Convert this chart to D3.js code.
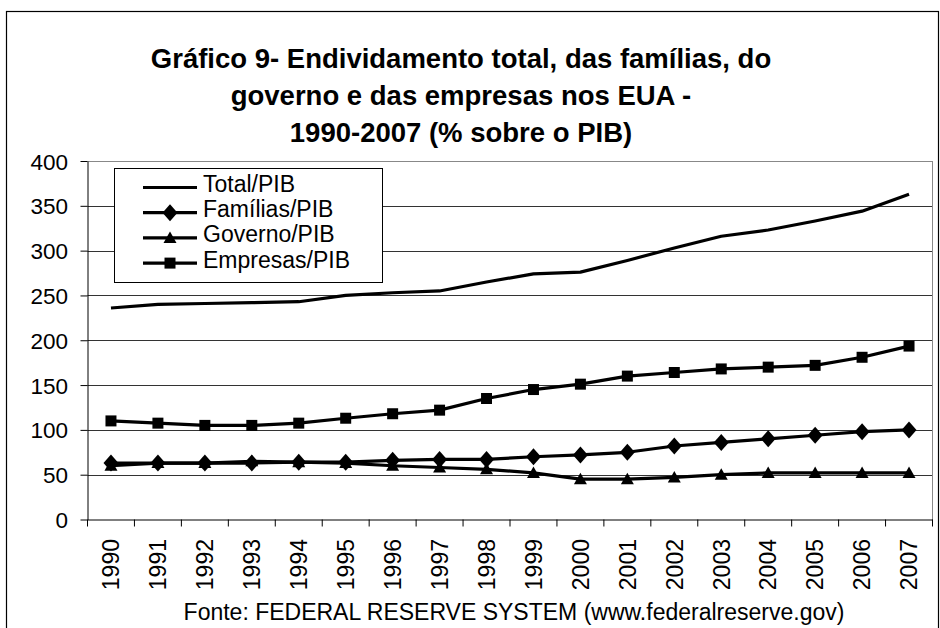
<!DOCTYPE html>
<html>
<head>
<meta charset="utf-8">
<script src="https://cdn.jsdelivr.net/npm/d3@7/dist/d3.min.js"></script>
<style>
  html, body { margin: 0; padding: 0; background: #fff; }
  svg { display: block; }
  text { font-family: "Liberation Sans", Arial, Helvetica, sans-serif; fill: #000; }
</style>
</head>
<body>
<svg id="chart" width="940" height="628"></svg>
<script>
// ---- data ----
const years = ["1990","1991","1992","1993","1994","1995","1996","1997","1998","1999","2000","2001","2002","2003","2004","2005","2006","2007"];
const totalPIB    = [236, 240, 241, 242, 243, 250, 253, 255, 265, 274, 276, 289, 303, 316, 323, 333, 344, 363];
const familiasPIB = [63, 63, 63, 63, 64, 64, 66, 67, 67, 70, 72, 75, 82, 86, 90, 94, 98, 100];
const governoPIB  = [60, 63, 63, 65, 64, 63, 60, 58, 56, 52, 45, 45, 47, 50, 52, 52, 52, 52];
const empresasPIB = [110, 107.5, 105, 105, 107.5, 113, 118, 122, 135, 145, 151, 160, 164, 168, 170, 172, 181, 193.5];
const yTicks = [0, 50, 100, 150, 200, 250, 300, 350, 400];
const seriesNames = ["Total/PIB", "Famílias/PIB", "Governo/PIB", "Empresas/PIB"];
const seriesMarkers = ["none", "diamond", "triangle", "square"];
const titleLines = ["Gráfico 9- Endividamento total, das famílias, do", "governo e das empresas nos EUA -", "1990-2007 (% sobre o PIB)"];
const sourceText = "Fonte: FEDERAL RESERVE SYSTEM (www.federalreserve.gov)";

const series = [totalPIB, familiasPIB, governoPIB, empresasPIB].map((vals, i) => ({
  name: seriesNames[i], marker: seriesMarkers[i], values: vals
}));

// ---- layout ----
const svg = d3.select("#chart");
const plot = { left: 87.5, right: 932.5, top: 161, bottom: 519.5 };

const x = d3.scaleBand().domain(years).range([plot.left, plot.right]);
const y = d3.scaleLinear().domain([0, 400]).range([plot.bottom, plot.top]);
const cx = d => x(d) + x.bandwidth() / 2;

// outer frame
svg.append("rect").attr("x", 6.5).attr("y", 11.5).attr("width", 932).attr("height", 640)
  .attr("fill", "#fff").attr("stroke", "#000").attr("stroke-width", 1.2);

// title
svg.append("g").selectAll("text").data(titleLines).join("text")
  .attr("x", 461).attr("y", (d, i) => 68 + i * 37)
  .attr("text-anchor", "middle").attr("font-size", 27.5).attr("font-weight", "bold")
  .text(d => d);

// gridlines
svg.append("g").selectAll("line").data(yTicks.filter(t => t > 0)).join("line")
  .attr("x1", plot.left).attr("x2", plot.right)
  .attr("y1", d => Math.round(y(d)) + 0.5).attr("y2", d => Math.round(y(d)) + 0.5)
  .attr("stroke", d => d === 400 ? "#888" : "#333").attr("stroke-width", 1);

// right border of plot area
svg.append("line").attr("x1", plot.right).attr("x2", plot.right)
  .attr("y1", plot.top).attr("y2", plot.bottom).attr("stroke", "#888");

// y axis
const yAxis = svg.append("g").attr("transform", `translate(${plot.left},0)`)
  .call(d3.axisLeft(y).tickValues(yTicks).tickSize(7).tickSizeOuter(0).tickPadding(19));
yAxis.select(".domain").attr("stroke", "#000");
yAxis.selectAll(".tick line").attr("stroke", "#000");
yAxis.selectAll(".tick text").attr("font-size", 22.5).attr("font-family", "Liberation Sans, Arial, sans-serif")
  .attr("dy", "0.36em").attr("x", -19.5);

// x axis line
const xAxis = svg.append("g").attr("transform", `translate(0,${plot.bottom})`)
  .call(d3.axisBottom(x).tickSize(0).tickPadding(0));
xAxis.select(".domain").attr("stroke", "#000");
xAxis.selectAll(".tick text").remove();
// x tick marks at category boundaries
const bounds = years.map(d => x(d)).concat([plot.right]);
svg.append("g").selectAll("line").data(bounds).join("line")
  .attr("x1", d => d).attr("x2", d => d)
  .attr("y1", plot.bottom).attr("y2", plot.bottom + 7)
  .attr("stroke", "#000");
// x labels (rotated)
svg.append("g").selectAll("text").data(years).join("text")
  .attr("transform", d => `translate(${cx(d)},539) rotate(-90)`)
  .attr("text-anchor", "end").attr("dy", "0.36em").attr("font-size", 23)
  .text(d => d);

// lines
const line = d3.line().x((v, i) => cx(years[i])).y(v => y(v));
svg.append("g").selectAll("path").data(series).join("path")
  .attr("d", s => line(s.values))
  .attr("fill", "none").attr("stroke", "#000").attr("stroke-width", 3.2)
  .attr("stroke-linejoin", "round");

// markers
function markerPath(type) {
  if (type === "diamond") return "M0,-8.5L7.5,0L0,8.5L-7.5,0Z";
  if (type === "triangle") return "M0,-6.5L6.5,5L-6.5,5Z";
  if (type === "square") return "M-5.5,-5.5H5.5V5.5H-5.5Z";
  return null;
}
series.filter(s => s.marker !== "none").forEach(s => {
  svg.append("g").selectAll("path").data(s.values).join("path")
    .attr("transform", (v, i) => `translate(${cx(years[i])},${y(v)})`)
    .attr("d", markerPath(s.marker)).attr("fill", "#000");
});

// legend
const lg = svg.append("g");
lg.append("rect").attr("x", 114.5).attr("y", 168.5).attr("width", 268).attr("height", 114)
  .attr("fill", "#fff").attr("stroke", "#000").attr("stroke-width", 1);
const rows = lg.selectAll("g").data(series).join("g")
  .attr("transform", (d, i) => `translate(0,${187.5 + i * 25.2})`);
rows.append("line").attr("x1", 143).attr("x2", 197).attr("y1", 0).attr("y2", 0)
  .attr("stroke", "#000").attr("stroke-width", 3.2);
rows.filter(d => d.marker !== "none").append("path")
  .attr("transform", "translate(170,0)")
  .attr("d", d => markerPath(d.marker)).attr("fill", "#000");
rows.append("text").attr("x", 203).attr("y", 4.5).attr("font-size", 23).text(d => d.name);

// source
svg.append("text").attr("x", 514).attr("y", 620).attr("text-anchor", "middle")
  .attr("font-size", 23).text(sourceText);
</script>
</body>
</html>
